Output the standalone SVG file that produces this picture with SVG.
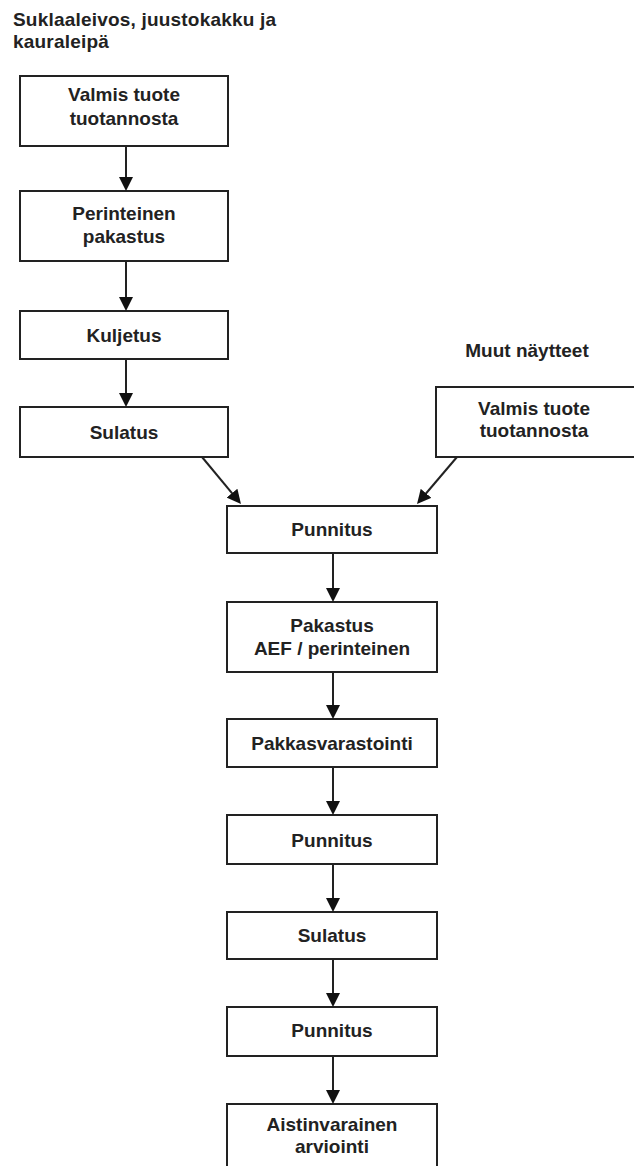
<svg xmlns="http://www.w3.org/2000/svg" width="634" height="1166" viewBox="0 0 634 1166">
<style>
.box{fill:#fff;stroke:#222;stroke-width:2}
.t{font-family:"Liberation Sans",Arial,sans-serif;font-weight:bold;font-size:19px;fill:#222;text-anchor:middle}
.h{font-family:"Liberation Sans",Arial,sans-serif;font-weight:bold;font-size:19px;fill:#222}
.c{stroke:#222;stroke-width:2;fill:none;marker-end:url(#ah)}
</style>
<defs>
<marker id="ah" markerUnits="userSpaceOnUse" markerWidth="14" markerHeight="14" refX="10" refY="7" orient="auto">
<path d="M0,0 L14,7 L0,14 z" fill="#111"/>
</marker>
</defs>
<g id="title">
<text class="h" x="13" y="26" letter-spacing="0.2">Suklaaleivos, juustokakku ja</text>
<text class="h" x="13" y="48" letter-spacing="0.2">kauraleipä</text>
</g>
<g id="muut">
<text class="t" x="527" y="357">Muut näytteet</text>
</g>
<g id="n1"><rect class="box" x="20" y="76" width="208" height="70"/><text class="t" x="124" y="101">Valmis tuote</text><text class="t" x="124" y="125">tuotannosta</text></g>
<g id="n2"><rect class="box" x="20" y="191" width="208" height="70"/><text class="t" x="124" y="220">Perinteinen</text><text class="t" x="124" y="243">pakastus</text></g>
<g id="n3"><rect class="box" x="20" y="311" width="208" height="48"/><text class="t" x="124" y="342">Kuljetus</text></g>
<g id="n4"><rect class="box" x="20" y="407" width="208" height="50"/><text class="t" x="124" y="439">Sulatus</text></g>
<g id="n5"><rect class="box" x="436" y="387" width="210" height="70"/><text class="t" x="534" y="415">Valmis tuote</text><text class="t" x="534" y="437">tuotannosta</text></g>
<g id="n6"><rect class="box" x="227" y="506" width="210" height="47"/><text class="t" x="332" y="536">Punnitus</text></g>
<g id="n7"><rect class="box" x="227" y="602" width="210" height="70"/><text class="t" x="332" y="632">Pakastus</text><text class="t" x="332" y="655">AEF / perinteinen</text></g>
<g id="n8"><rect class="box" x="227" y="719" width="210" height="48"/><text class="t" x="332" y="750">Pakkasvarastointi</text></g>
<g id="n9"><rect class="box" x="227" y="815" width="210" height="49"/><text class="t" x="332" y="847">Punnitus</text></g>
<g id="n10"><rect class="box" x="227" y="912" width="210" height="47"/><text class="t" x="332" y="942">Sulatus</text></g>
<g id="n11"><rect class="box" x="227" y="1007" width="210" height="49"/><text class="t" x="332" y="1037">Punnitus</text></g>
<g id="n12"><rect class="box" x="227" y="1104" width="210" height="80"/><text class="t" x="332" y="1131">Aistinvarainen</text><text class="t" x="332" y="1153">arviointi</text></g>
<g id="connectors">
<line class="c" x1="126" y1="146" x2="126" y2="187"/>
<line class="c" x1="126" y1="261" x2="126" y2="307"/>
<line class="c" x1="126" y1="359" x2="126" y2="403"/>
<line class="c" x1="202" y1="457" x2="238.4" y2="500.9"/>
<line class="c" x1="457" y1="457" x2="419.6" y2="501"/>
<line class="c" x1="333" y1="553" x2="333" y2="598"/>
<line class="c" x1="333" y1="672" x2="333" y2="715"/>
<line class="c" x1="333" y1="767" x2="333" y2="811"/>
<line class="c" x1="333" y1="864" x2="333" y2="908"/>
<line class="c" x1="333" y1="959" x2="333" y2="1003"/>
<line class="c" x1="333" y1="1056" x2="333" y2="1100"/>
</g>
</svg>
